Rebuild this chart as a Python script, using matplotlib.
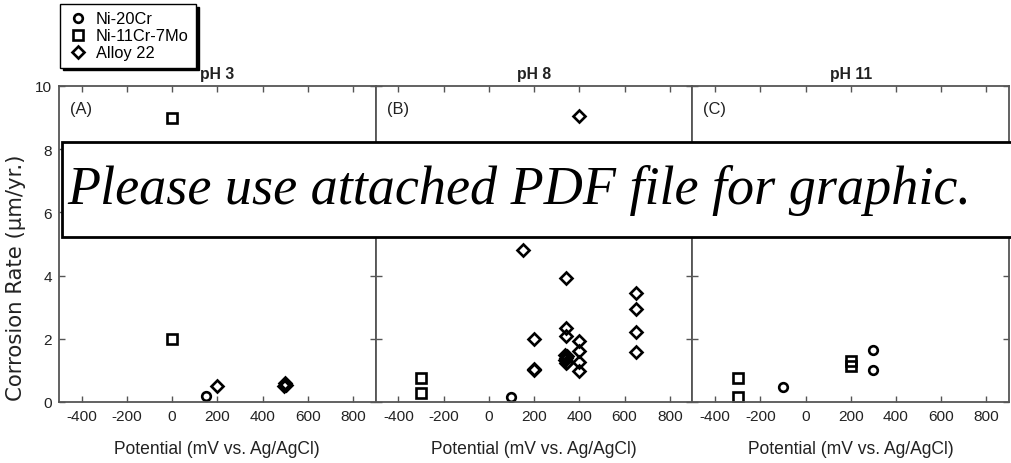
import matplotlib
matplotlib.use("Agg")
import matplotlib.pyplot as plt
from matplotlib import font_manager
from matplotlib.patches import Rectangle

# ---- data (potential mV, corrosion rate um/yr) ----
ph3_ni20cr_x = [150]
ph3_ni20cr_y = [0.2]
ph3_ni11cr_x = [0, 0]
ph3_ni11cr_y = [9.0, 2.0]
ph3_c22_x = [200, 495, 500, 505]
ph3_c22_y = [0.5, 0.5, 0.6, 0.55]

ph8_ni20cr_x = [100]
ph8_ni20cr_y = [0.15]
ph8_ni11cr_x = [-300, -300]
ph8_ni11cr_y = [0.75, 0.3]
ph8_c22_x = [400, 150, 340, 200, 200, 200, 340, 340,
             335, 345, 340, 335, 345, 340,
             400, 400, 400, 400, 650, 650, 650, 650]
ph8_c22_y = [9.05, 4.8, 3.93, 2.0, 1.0, 1.05, 2.33, 2.08,
             1.5, 1.45, 1.4, 1.32, 1.28, 1.25,
             1.93, 1.6, 1.28, 0.97, 3.45, 2.95, 2.23, 1.58]

ph11_ni20cr_x = [-100, 300, 300]
ph11_ni20cr_y = [0.46, 1.65, 1.02]
ph11_ni11cr_x = [-300, -300, 200, 200]
ph11_ni11cr_y = [0.76, 0.15, 1.3, 1.15]
ph11_c22_x = []
ph11_c22_y = []

titles = ["pH 3", "pH 8", "pH 11"]
letters = ["(A)", "(B)", "(C)"]
series_names = ["Ni-20Cr", "Ni-11Cr-7Mo", "Alloy 22"]
xticks = [-400, -200, 0, 200, 400, 600, 800]
yticks = [0, 2, 4, 6, 8, 10]

plt.rcParams["axes.unicode_minus"] = False

# narrow sans if we have it, plain Liberation otherwise
names = {f.name for f in font_manager.fontManager.ttflist}
if "Liberation Sans Narrow" in names:
    sans, k = "Liberation Sans Narrow", 1.0
else:
    sans, k = "Liberation Sans", 0.82

txt = "#222222"
spine = "#555555"

fig = plt.figure(figsize=(10.12, 4.64), dpi=100)

panels = [
    (ph3_ni20cr_x, ph3_ni20cr_y, ph3_ni11cr_x, ph3_ni11cr_y, ph3_c22_x, ph3_c22_y),
    (ph8_ni20cr_x, ph8_ni20cr_y, ph8_ni11cr_x, ph8_ni11cr_y, ph8_c22_x, ph8_c22_y),
    (ph11_ni20cr_x, ph11_ni20cr_y, ph11_ni11cr_x, ph11_ni11cr_y, ph11_c22_x, ph11_c22_y),
]

left0 = 59 / 1012
w = 316.7 / 1012
bottom = 1 - 403 / 464
h = 316 / 464

handles = []
for i, (cx, cy, sx, sy, dx, dy) in enumerate(panels):
    ax = fig.add_axes([left0 + i * w, bottom, w, h])
    hc, = ax.plot(cx, cy, "o", ms=6.2, mfc="none", mec="black", mew=1.9, ls="none")
    hs, = ax.plot(sx, sy, "s", ms=7, mfc="none", mec="black", mew=1.9, ls="none")
    hd, = ax.plot(dx, dy, "D", ms=5.8, mfc="none", mec="black", mew=1.9, ls="none")
    if i == 0:
        handles = [hc, hs, hd]
    ax.set_xlim(-500, 900)
    ax.set_ylim(0, 10)
    ax.set_xticks(xticks)
    ax.set_yticks(yticks)
    ax.tick_params(direction="in", top=True, right=True, length=4, width=1,
                   color=spine, labelcolor=txt, labelsize=13.5 * k, pad=5)
    for lab in ax.get_xticklabels() + ax.get_yticklabels():
        lab.set_family(sans)
    if i > 0:
        ax.tick_params(labelleft=False)
    for s in ax.spines.values():
        s.set_color(spine)
        s.set_linewidth(1.3)
    ax.set_title(titles[i], fontsize=13.8 * k, fontweight="bold", family=sans,
                 color=txt, pad=6)
    ax.text(0.035, 0.93, letters[i], transform=ax.transAxes, fontsize=14.5 * k,
            family=sans, color=txt, va="center")
    ax.set_xlabel("Potential (mV vs. Ag/AgCl)", fontsize=15.4 * k, family=sans,
                  color=txt, labelpad=12)
    if i == 0:
        ax.set_ylabel("Corrosion Rate (\u00b5m/yr.)", fontsize=15.3, family="DejaVu Sans",
                      color=txt)
        ax.yaxis.set_label_coords(-0.105, 0.395)

fig.legend(handles, series_names, loc="upper left",
           bbox_to_anchor=(60 / 1012, 1 - 5 / 464), borderaxespad=0,
           prop={"family": "Liberation Sans", "size": 11.8}, labelspacing=0.12,
           handlelength=1.3, handletextpad=0.45, borderpad=0.45,
           frameon=True, fancybox=False, edgecolor="black",
           shadow={"color": "black", "alpha": 1.0})

# the "use the PDF" banner laid over the plot
fig.add_artist(Rectangle((62 / 1012, 1 - 238 / 464), 0.96, 95 / 464,
                         transform=fig.transFigure, facecolor="white",
                         edgecolor="black", linewidth=2, zorder=10))
fig.text(67 / 1012, 1 - 190 / 464, "Please use attached PDF file for graphic.",
         family="Liberation Serif", style="italic", fontsize=39,
         va="center", ha="left", zorder=11)

fig.savefig("out.png", dpi=100)
